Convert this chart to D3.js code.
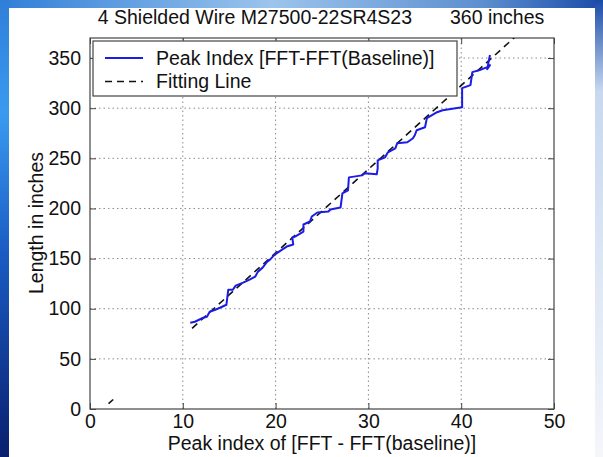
<!DOCTYPE html>
<html><head><meta charset="utf-8">
<script src="https://cdn.jsdelivr.net/npm/d3@7"></script>
<style>
html,body{margin:0;padding:0;background:#fff;}
text{font-family:"Liberation Sans",Arial,sans-serif;fill:#111;}
</style></head>
<body><svg id="c" width="603" height="457"></svg>
<script>
// ---- data ----
const titleText = "4 Shielded Wire M27500-22SR4S23       360 inches";
const xLabel = "Peak index of [FFT - FFT(baseline)]";
const yLabel = "Length in inches";
const xTicks = [0, 10, 20, 30, 40, 50];
const yTicks = [0, 50, 100, 150, 200, 250, 300, 350];
const seriesNames = ["Peak Index [FFT-FFT(Baseline)]", "Fitting Line"];
// peak index (x) vs length (y), traced vertices of the blue line
const peakX = [10.8, 11.3, 12.2, 12.6, 12.9, 13.5, 14.0, 14.7, 14.9, 15.4, 15.7, 16.5, 17.2, 17.8, 18.1, 18.6, 19.1, 19.4, 19.9, 20.7, 21.2, 21.9, 21.8, 22.1, 23.0, 23.0, 23.7, 23.9, 24.5, 25.7, 25.9, 27.0, 27.2, 27.8, 27.9, 29.3, 29.6, 30.9, 31.0, 31.0, 31.8, 32.1, 32.9, 33.1, 34.2, 34.8, 35.0, 35.2, 36.1, 36.3, 37.4, 38.0, 40.1, 40.1, 41.0, 41.2, 42.0, 42.8, 43.1, 42.8, 43.1];
const peakY = [86, 87, 91, 92, 97, 99, 101, 104, 119, 119, 123, 126, 129, 132, 137, 141, 147, 149, 154, 159, 162, 164, 171, 172, 177, 184, 187, 192, 196, 197, 199, 201, 215, 218, 231, 233, 235, 234, 240, 248, 251, 256, 260, 265, 266, 270, 273, 278, 281, 290, 296, 298, 301, 320, 323, 336, 338, 341, 343, 339, 353];
// fitting line segments (x, y) endpoints
const fitAX = [2.0, 2.5];
const fitAY = [5.3, 9.5];
const fitBX = [11.0, 46.0];
const fitBY = [80.5, 372.7];

// ---- drawing ----
const svg = d3.select("#c");
const W = 603, H = 457;
const defs = svg.append("defs");
const g1 = defs.append("linearGradient").attr("id","leftg").attr("x1",0).attr("y1",0).attr("x2",0).attr("y2",1);
g1.append("stop").attr("offset","0%").attr("stop-color","#2f7fd8");
g1.append("stop").attr("offset","25%").attr("stop-color","#3a9af0");
g1.append("stop").attr("offset","55%").attr("stop-color","#1a5cc4");
g1.append("stop").attr("offset","100%").attr("stop-color","#0a1f6e");
const g2 = defs.append("linearGradient").attr("id","topg").attr("x1",0).attr("y1",0).attr("x2",1).attr("y2",0);
g2.append("stop").attr("offset","0%").attr("stop-color","#2f7fd8");
g2.append("stop").attr("offset","45%").attr("stop-color","#9cc4ec");
g2.append("stop").attr("offset","80%").attr("stop-color","#5d8fd0");
g2.append("stop").attr("offset","100%").attr("stop-color","#1a4aa8");
const g3 = defs.append("linearGradient").attr("id","rightg").attr("x1",0).attr("y1",0).attr("x2",0).attr("y2",1);
g3.append("stop").attr("offset","0%").attr("stop-color","#1a4aa8");
g3.append("stop").attr("offset","20%").attr("stop-color","#c8d8ee");
g3.append("stop").attr("offset","100%").attr("stop-color","#f4f6fa");

svg.append("rect").attr("x",0).attr("y",0).attr("width",W).attr("height",H).attr("fill","#fff");
svg.append("rect").attr("x",0).attr("y",0).attr("width",W).attr("height",8).attr("fill","url(#topg)");
svg.append("rect").attr("x",0).attr("y",0).attr("width",9).attr("height",H).attr("fill","url(#leftg)");
svg.append("rect").attr("x",595).attr("y",0).attr("width",8).attr("height",H).attr("fill","url(#rightg)");

const x = d3.scaleLinear().domain([0, 50]).range([90, 554]);
const y = d3.scaleLinear().domain([0, 370]).range([409, 38]);
const [x0, x1] = x.range(), [y0, y1] = y.range();

defs.append("clipPath").attr("id","plotclip").append("rect")
  .attr("x", x0).attr("y", y1).attr("width", x1 - x0).attr("height", y0 - y1);

// grid
const grid = svg.append("g").attr("stroke","#8a8a8a").attr("stroke-width",1).attr("stroke-dasharray","1.5,3");
xTicks.filter(t => t > 0 && t < 50).forEach(t => {
  grid.append("line").attr("x1", x(t)).attr("x2", x(t)).attr("y1", y0).attr("y2", y1);
});
yTicks.filter(t => t > 0).forEach(t => {
  grid.append("line").attr("x1", x0).attr("x2", x1).attr("y1", y(t)).attr("y2", y(t));
});

// axes
const fs = 19.5;
const xAxis = d3.axisBottom(x).tickValues(xTicks).tickSize(-6).tickPadding(5).tickFormat(d3.format("d"));
const xg = svg.append("g").attr("transform", `translate(0,${y0})`).call(xAxis);
const xAxisTop = d3.axisTop(x).tickValues(xTicks).tickSize(-6).tickFormat("");
const xgt = svg.append("g").attr("transform", `translate(0,${y1})`).call(xAxisTop);
const yAxis = d3.axisLeft(y).tickValues(yTicks).tickSize(-6).tickPadding(9).tickFormat(d3.format("d"));
const yg = svg.append("g").attr("transform", `translate(${x0},0)`).call(yAxis);
const yAxisR = d3.axisRight(y).tickValues(yTicks).tickSize(-6).tickFormat("");
const ygr = svg.append("g").attr("transform", `translate(${x1},0)`).call(yAxisR);
[xg, xgt, yg, ygr].forEach(g => {
  g.select(".domain").remove();
  g.selectAll("line").attr("stroke","#444");
  g.selectAll("text").style("font-size", fs + "px").attr("fill","#111")
   .style("font-family","'Liberation Sans',Arial,sans-serif");
});
svg.append("rect").attr("x", x0).attr("y", y1).attr("width", x1 - x0).attr("height", y0 - y1)
  .attr("fill","none").attr("stroke","#444").attr("stroke-width",1.2);

// data lines
const plot = svg.append("g").attr("clip-path","url(#plotclip)");
const line = d3.line().x(d => x(d[0])).y(d => y(d[1]));
[[fitAX, fitAY], [fitBX, fitBY]].forEach(([fx, fy]) => {
  plot.append("path").datum(fx.map((v, i) => [v, fy[i]]))
    .attr("d", line).attr("fill","none").attr("stroke","#111")
    .attr("stroke-width",1.6).attr("stroke-dasharray","7,5");
});
plot.append("path").datum(peakX.map((v, i) => [v, peakY[i]]))
  .attr("d", line).attr("fill","none").attr("stroke","#1c1ce8")
  .attr("stroke-width",2).attr("stroke-linejoin","round");

// legend
const lg = svg.append("g");
lg.append("rect").attr("x",93).attr("y",41).attr("width",364).attr("height",55)
  .attr("fill","#fff").attr("stroke","#444").attr("stroke-width",1.2);
lg.append("line").attr("x1",105).attr("x2",143).attr("y1",58).attr("y2",58)
  .attr("stroke","#1c1ce8").attr("stroke-width",2);
lg.append("line").attr("x1",105).attr("x2",143).attr("y1",81.5).attr("y2",81.5)
  .attr("stroke","#111").attr("stroke-width",1.6).attr("stroke-dasharray","7,5");
lg.append("text").attr("x",156).attr("y",58).attr("dy","0.35em").style("font-size",fs+"px").text(seriesNames[0]);
lg.append("text").attr("x",156).attr("y",81.5).attr("dy","0.35em").style("font-size",fs+"px").text(seriesNames[1]);

// title & labels
svg.append("text").attr("x",321).attr("y",17).attr("dy","0.35em").attr("text-anchor","middle")
  .style("font-size",fs+"px").style("white-space","pre").text(titleText);
svg.append("text").attr("x",322).attr("y",443).attr("dy","0.35em").attr("text-anchor","middle")
  .style("font-size",fs+"px").text(xLabel);
svg.append("text").attr("transform","translate(36,223) rotate(-90)").attr("dy","0.35em")
  .attr("text-anchor","middle").style("font-size",fs+"px").text(yLabel);
</script></body></html>
